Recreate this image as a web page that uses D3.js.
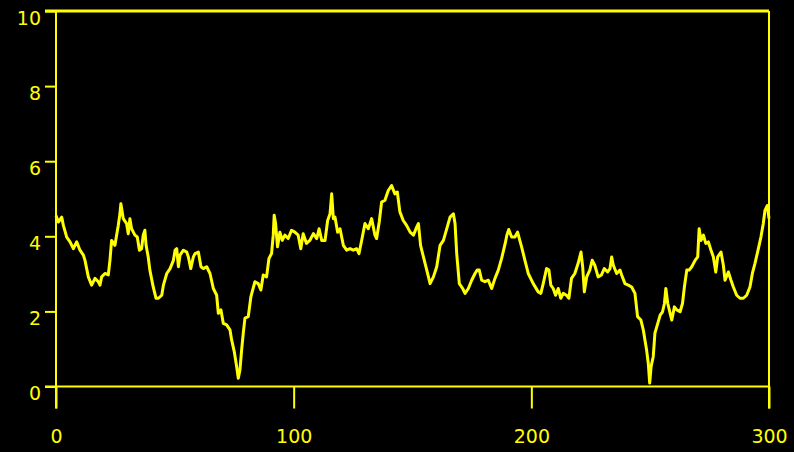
<!DOCTYPE html>
<html>
<head>
<meta charset="utf-8">
<script src="https://cdn.jsdelivr.net/npm/d3@7"></script>
<style>
	body { margin: 0; background: #000; }
	svg { display: block; }
</style>
</head>
<body>
<div class="chart-wrap"></div>
<script>

// time values (x)
var timeVals = [
	0, 1, 2.4, 3.1, 4.5, 5.9, 7.3, 8.7, 10.1, 11.5, 12.2, 13.6, 15, 16.4, 17.8, 18.5, 19.2, 20.6, 22, 22.7,
	23.4, 24.8, 25.5, 26.2, 26.9, 27.3, 28.3, 29.7, 30.4, 31.1, 31.8, 33.2, 34.2, 35.1, 36, 36.7, 37.4, 37.9, 38.8, 39.5,
	40.9, 42.1, 43.1, 44.5, 45.2, 46.6, 48, 49.4, 50.1, 50.8, 51.5, 52.2, 53.6, 55, 55.7, 56.7, 57.8,
	58.5, 59.9, 61, 62, 63.4, 64.8, 66.2, 67.6, 68.3, 69.4, 70.4, 71.8, 73.2, 73.9, 75, 76, 76.7, 77.4, 78.1, 78.8,
	79.5, 80.9, 82, 83.7, 85.1, 86.2, 87.2, 88.6, 89.6, 90.7, 91.4, 91.8, 92.4, 93.2, 94.2, 95.2, 96.3, 97.7, 99.1, 100.5,
	101.9, 103, 104, 105.4, 106.8, 108.3, 109.7, 110.7, 111.8, 113.2, 114.3, 115.3, 116, 116.7, 117.4, 118.5, 119.5,
	120.9, 122.3, 123.7, 125.1, 126.5, 127.5, 128.6, 130, 131.4, 132.8, 134.2, 134.9, 136, 137, 138.4, 139.8, 141.2, 142.6,
	143.6, 144.7, 146.1, 147.5, 149, 150.4, 151.8, 152.5, 153.4, 154.6, 156, 157.4, 158.8, 160.2, 161.6, 163, 164.4, 165.8,
	167.2, 167.9, 168.6, 169.7, 171.1, 172.1, 173.5, 174.9, 176.3, 177.2, 178.1, 179.1, 180.5,
	181.9, 183.3, 184.7, 186.1, 187.5, 189, 189.7, 190.5, 191.7, 193.1, 194.2, 195.9, 197.3, 198.7, 200.8, 202.9, 204, 205,
	206.4, 207.4, 208.2, 209.2, 210.2, 211.3, 212.4, 213.4, 214.8, 215.8, 216.9, 218.3, 219.7, 220.9, 221.6, 222.3, 223.3,
	224.6, 225.6, 226.7, 228.1, 229.5, 230.7, 232.1, 233.1, 233.8, 234.5, 235.9, 237.3, 238, 239.4,
	240.8, 242.2, 243.6, 244.7, 246.1, 247.1, 247.8, 248.5, 249.2, 249.8, 250.4, 251.3, 252, 253.2, 254.2, 255.2, 256, 256.6,
	257.4, 258.4, 259.1, 260.2, 261.2, 262.6, 263.6, 264.4, 265.4, 266.4, 267.5, 268.9, 270, 270.6, 271.4, 272.4, 273.4,
	274.5, 275.6, 276.6, 277.6, 278.4, 279.8, 280.8, 281.5, 282.9, 284, 285, 286.4, 287.8, 289.2, 290.6, 292, 293, 294.1,
	295.2, 296.6, 297.6, 298.3, 299.3, 300
];

// series values (y)
var levelVals = [
	4.55, 4.38, 4.51, 4.29, 3.98, 3.85, 3.67, 3.85, 3.63, 3.50, 3.36, 2.92, 2.70, 2.88, 2.79, 2.70, 2.92, 3.01, 2.97, 3.36,
	3.89, 3.76, 4.03, 4.29, 4.60, 4.87, 4.47, 4.34, 4.07, 4.47, 4.20, 4.03, 3.98, 3.63, 3.67, 4.03, 4.16, 3.76, 3.45, 3.10,
	2.65, 2.35, 2.35, 2.43, 2.70, 3.01, 3.14, 3.36, 3.63, 3.67, 3.19, 3.50, 3.63, 3.58, 3.45, 3.14, 3.45,
	3.54, 3.58, 3.19, 3.14, 3.19, 3.01, 2.61, 2.43, 1.95, 2.04, 1.68, 1.64, 1.51, 1.24, 0.93, 0.53, 0.22, 0.44, 0.97, 1.42,
	1.82, 1.86, 2.39, 2.79, 2.74, 2.57, 2.97, 2.92, 3.41, 3.54, 4.03, 4.56, 4.34, 3.72, 4.11, 3.89, 4.03, 3.94, 4.16, 4.11,
	4.03, 3.67, 4.07, 3.81, 3.89, 4.07, 3.94, 4.20, 3.89, 3.89, 4.42, 4.60, 5.13, 4.47, 4.51, 4.11, 4.20,
	3.76, 3.63, 3.67, 3.63, 3.67, 3.54, 3.89, 4.34, 4.20, 4.47, 4.03, 3.94, 4.38, 4.91, 4.96, 5.22, 5.35, 5.13,
	5.18, 4.65, 4.42, 4.29, 4.11, 4.03, 4.25, 4.34, 3.76, 3.45, 3.10, 2.74, 2.92, 3.19, 3.76, 3.89, 4.20, 4.51,
	4.60, 4.34, 3.54, 2.74, 2.61, 2.48, 2.61, 2.83, 3.01, 3.10, 3.10, 2.83, 2.79,
	2.83, 2.61, 2.88, 3.10, 3.41, 3.81, 4.03, 4.18, 3.98, 3.98, 4.11, 3.72, 3.36, 3.01, 2.74, 2.52, 2.48, 2.74,
	3.14, 3.10, 2.70, 2.61, 2.43, 2.61, 2.35, 2.48, 2.43, 2.35, 2.88, 3.01, 3.28, 3.58, 3.19, 2.52, 2.92,
	3.10, 3.36, 3.23, 2.92, 2.97, 3.14, 3.05, 3.14, 3.45, 3.23, 3.01, 3.10, 2.97, 2.74,
	2.70, 2.65, 2.48, 1.86, 1.77, 1.51, 1.24, 0.97, 0.62, 0.09, 0.53, 0.80, 1.42, 1.68, 1.90, 1.99, 2.21, 2.61,
	2.21, 1.95, 1.77, 2.12, 2.04, 1.99, 2.21, 2.65, 3.10, 3.10, 3.19, 3.36, 3.45, 4.20, 3.89, 4.03, 3.81,
	3.85, 3.63, 3.45, 3.05, 3.45, 3.58, 3.23, 2.83, 3.05, 2.83, 2.65, 2.43, 2.35, 2.35, 2.43, 2.65, 3.01, 3.28,
	3.58, 3.98, 4.34, 4.69, 4.82, 4.47
];

var xTickVals = [0, 100, 200, 300];
var yTickVals = [0, 2, 4, 6, 8, 10];


var CHART = (function(CHART)
{
	var width = 794;
	var height = 452;
	var color = "#ffff00";
	var font = "'DejaVu Sans', sans-serif";

	CHART.init = function()
	{
		var svg = d3.select(".chart-wrap")
		.append("svg")
		.attr("width", width)
		.attr("height", height)
		.style("background", "#000");

		var x = d3.scaleLinear()
		.domain([0, 300])
		.range([56, 769]);

		var y = d3.scaleLinear()
		.domain([0, 10])
		.range([386.5, 11]);

		// y ticks + labels
		var yAxis = svg.append("g")
		.attr("class", "yAxis")
		.attr("transform", "translate(56,0)")
		.call(d3.axisLeft(y).tickValues(yTickVals).tickSize(11).tickSizeOuter(0));

		yAxis.select(".domain").remove();
		yAxis.selectAll("line")
		.attr("stroke", color)
		.attr("stroke-width", 2);
		yAxis.selectAll("text")
		.attr("fill", color)
		.attr("x", -15)
		.attr("dy", null)
		.attr("y", 13)
		.style("font-family", font)
		.style("font-size", "19px")
		.attr("text-anchor", "end");

		// x ticks + labels
		var xAxis = svg.append("g")
		.attr("class", "xAxis")
		.attr("transform", "translate(0," + y(0) + ")")
		.call(d3.axisBottom(x).tickValues(xTickVals).tickSize(22).tickSizeOuter(0));

		xAxis.select(".domain").remove();
		xAxis.selectAll("line")
		.attr("stroke", color)
		.attr("stroke-width", 2);
		xAxis.selectAll("text")
		.attr("fill", color)
		.attr("dy", null)
		.attr("y", 56.5)
		.style("font-family", font)
		.style("font-size", "19px");

		// frame
		var frame = svg.append("g")
		.attr("class", "frame")
		.attr("stroke", color)
		.attr("fill", "none");

		frame.append("line")
		.attr("x1", 45).attr("x2", x(300))
		.attr("y1", y(10)).attr("y2", y(10))
		.attr("stroke-width", 3);

		frame.append("line")
		.attr("x1", 45).attr("x2", x(300))
		.attr("y1", y(0)).attr("y2", y(0))
		.attr("stroke-width", 2);

		frame.append("line")
		.attr("x1", x(0)).attr("x2", x(0))
		.attr("y1", y(10)).attr("y2", y(0) + 22)
		.attr("stroke-width", 2);

		frame.append("line")
		.attr("x1", x(300)).attr("x2", x(300))
		.attr("y1", y(10)).attr("y2", y(0) + 22)
		.attr("stroke-width", 2);

		// series
		var line = d3.line()
		.x(function(d) { return x(d[0]); })
		.y(function(d) { return y(d[1]); });

		svg.append("path")
		.attr("class", "mainline")
		.datum(d3.zip(timeVals, levelVals))
		.attr("d", line)
		.attr("fill", "none")
		.attr("stroke", color)
		.attr("stroke-width", 3)
		.attr("stroke-linejoin", "round");
	}

	return CHART;

}(CHART || {}));

CHART.init();
</script>
</body>
</html>
